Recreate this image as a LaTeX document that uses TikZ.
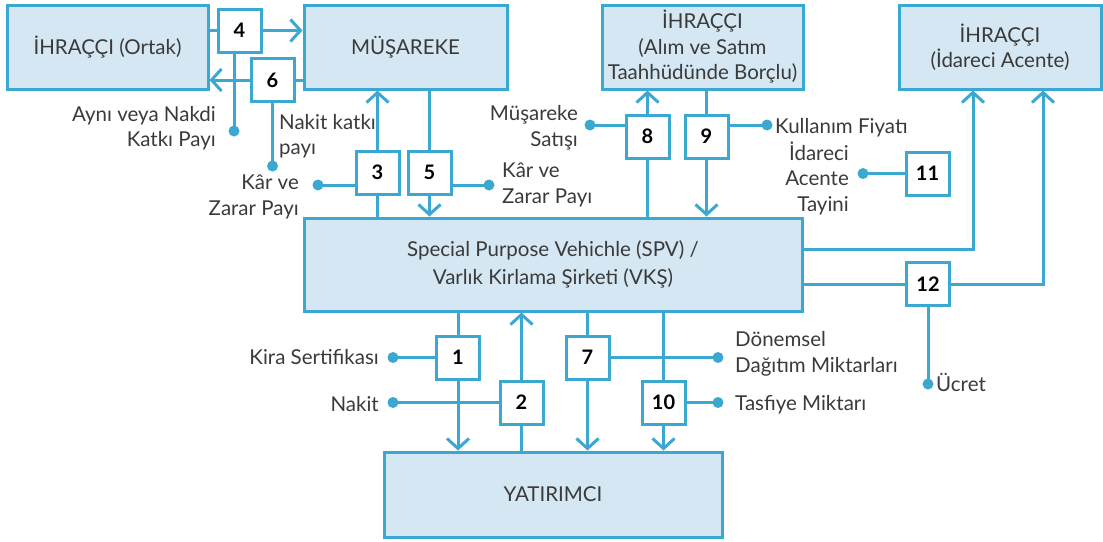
\documentclass[tikz,border=0pt]{standalone}
\usepackage{fontspec}
\setmainfont{Lato}
\usetikzlibrary{arrows.meta,calc}
\definecolor{cblue}{HTML}{3AA8D0}
\definecolor{cfill}{HTML}{D4E7F3}
\definecolor{ctext}{HTML}{3A3A3A}
\pgfdeclarelayer{bg}
\pgfsetlayers{bg,main}
\begin{document}
\begin{tikzpicture}[x=1pt,y=-1pt,
  font=\fontsize{20.5}{25.5}\selectfont,
  bigbox/.style={draw=cblue,fill=cfill,line width=3pt,inner sep=0pt,align=center,text=ctext},
  numbox/.style={draw=cblue,fill=white,line width=3pt,minimum width=43pt,minimum height=43pt,inner sep=0pt,font=\fontsize{20}{24}\selectfont\bfseries,text=black},
  dot/.style={circle,fill=cblue,minimum size=11pt,inner sep=0pt},
  lbl/.style={text=ctext,inner sep=0pt},
  conn/.style={draw=cblue,line width=3pt},
  arr/.style={conn,-{Straight Barb[length=10pt,width=22pt]}}
]
\useasboundingbox (0,0) rectangle (1103,541);
% big boxes
\node[bigbox,minimum width=201pt,minimum height=84pt] (ortak) at (107.5,47) {İHRAÇÇI (Ortak)};
\node[bigbox,minimum width=203pt,minimum height=84pt] (mus) at (405.5,47) {MÜŞAREKE};
\node[bigbox,minimum width=201pt,minimum height=84pt] (alim) at (702.5,47) {İHRAÇÇI\\(Alım ve Satım\\Taahhüdünde Borçlu)};
\node[bigbox,minimum width=202pt,minimum height=84pt] (idareci) at (1000,47) {İHRAÇÇI\\(İdareci Acente)};
\node[bigbox,minimum width=498pt,minimum height=93pt,font=\fontsize{20.5}{28}\selectfont] (spv) at (553,264.5) {Special Purpose Vehichle (SPV) /\\Varlık Kirlama Şirketi (VKŞ)};
\node[bigbox,minimum width=338pt,minimum height=85pt] (yat) at (553,494.5) {YATIRIMCI};
% number boxes
\node[numbox] (n4) at (239.5,30.5) {4};
\node[numbox] (n6) at (272.5,80) {6};
\node[numbox] (n3) at (377.5,172.5) {3};
\node[numbox] (n5) at (429.5,172.5) {5};
\node[numbox] (n8) at (647.5,136.5) {8};
\node[numbox] (n9) at (706.5,136.5) {9};
\node[numbox] (n11) at (927.5,173.5) {11};
\node[numbox] (n12) at (928,284) {12};
\node[numbox] (n1) at (458,357.5) {1};
\node[numbox] (n2) at (521.5,402.5) {2};
\node[numbox] (n7) at (587.5,357.5) {7};
\node[numbox] (n10) at (663.5,402.5) {10};
% dots
\node[dot] (d4) at (234,131) {};
\node[dot] (d6) at (272.5,166) {};
\node[dot] (d3) at (318,185) {};
\node[dot] (d5) at (489,185) {};
\node[dot] (d8) at (590,125) {};
\node[dot] (d9) at (767,125) {};
\node[dot] (d11) at (863,173.5) {};
\node[dot] (d12) at (928,384) {};
\node[dot] (d1) at (393,357.5) {};
\node[dot] (d2) at (393,402.5) {};
\node[dot] (d7) at (718,357.5) {};
\node[dot] (d10) at (718,402.5) {};
\coordinate (c1) at (973,249);
\coordinate (c2) at (1043,284);
% labels
\node[lbl,anchor=east,align=right] (l4) at (216,128) {Aynı veya Nakdi\\Katkı Payı};
\node[lbl,anchor=west,align=left] (l3a) at (279,136) {Nakit katkı\\payı};
\node[lbl,anchor=east,align=right] (l3) at (299,197) {Kâr ve\\Zarar Payı};
\node[lbl,anchor=west,align=left] (l5) at (502,185) {Kâr ve\\Zarar Payı};
\node[lbl,anchor=east,align=right] (l8) at (578,128) {Müşareke\\Satışı};
\node[lbl,anchor=west] (l9) at (775,128) {Kullanım Fiyatı};
\node[lbl,anchor=east,align=right] (l11) at (849,178) {İdareci\\Acente\\Tayini};
\node[lbl,anchor=west] (l12) at (936,382) {Ücret};
\node[lbl,anchor=east] (l1) at (379,357) {Kira Sertifikası};
\node[lbl,anchor=east] (l2) at (379,404) {Nakit};
\node[lbl,anchor=west,align=left] (l7) at (735,354) {Dönemsel\\Dağıtım Miktarları};
\node[lbl,anchor=west] (l10) at (735,405) {Tasfiye Miktarı};
% connectors
\begin{pgfonlayer}{bg}
\draw[arr] (ortak.east |- n4) -- (mus.west |- n4);
\draw[conn] (d4.center) -- (d4 |- n4.south);
\draw[arr] (mus.west |- n6) -- (ortak.east |- n6);
\draw[conn] (d6.center) -- (n6.south);
\draw[arr] (spv.north -| n3) -- (mus.south -| n3);
\draw[conn] (d3.center) -- (d3 -| n3.west);
\draw[arr] (mus.south -| n5) -- (spv.north -| n5);
\draw[conn] (d5.center) -- (d5 -| n5.east);
\draw[arr] (spv.north -| n8) -- (alim.south -| n8);
\draw[conn] (d8.center) -- (d8 -| n8.west);
\draw[arr] (alim.south -| n9) -- (spv.north -| n9);
\draw[conn] (d9.center) -- (d9 -| n9.east);
\draw[conn] (d11.center) -- (n11.west);
\draw[arr] (spv.east |- c1) -| (idareci.south -| c1);
\draw[arr] (spv.east |- c2) -| (idareci.south -| c2);
\draw[conn] (d12.center) -- (n12.south);
\draw[arr] (spv.south -| n1) -- (yat.north -| n1);
\draw[conn] (d1.center) -- (n1.west);
\draw[arr] (yat.north -| n2) -- (spv.south -| n2);
\draw[conn] (d2.center) -- (n2.west);
\draw[arr] (spv.south -| n7) -- (yat.north -| n7);
\draw[conn] (d7.center) -- (n7.east);
\draw[arr] (spv.south -| n10) -- (yat.north -| n10);
\draw[conn] (d10.center) -- (n10.east);
\end{pgfonlayer}
\end{tikzpicture}
\end{document}
